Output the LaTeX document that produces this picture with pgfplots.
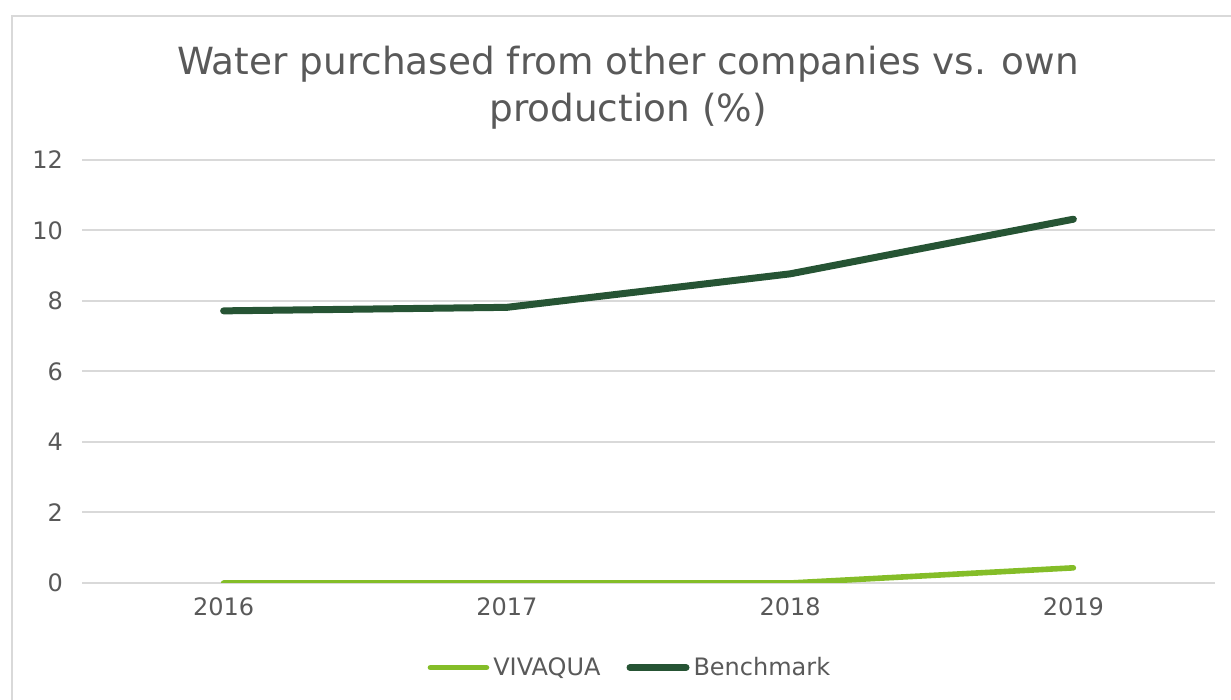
\documentclass[border=0pt]{standalone}
\usepackage{fontspec}
\setmainfont{DejaVu Sans}
\usepackage{pgfplots}
\pgfplotsset{compat=1.18}
\definecolor{txt}{RGB}{89,89,89}
\definecolor{gridc}{RGB}{217,217,217}
\definecolor{viva}{RGB}{132,189,40}
\definecolor{bench}{RGB}{38,84,52}
\begin{document}
\begin{tikzpicture}
\path[use as bounding box] (0,0) rectangle (615.5pt,350pt);
\draw[gridc, line width=1pt] (5.75pt,-20pt) -- (5.75pt,342pt) -- (640pt,342pt);
\node[text=txt, font=\fontsize{18.7pt}{23.5pt}\selectfont, align=center] at (314pt,306pt) {Water purchased from other companies vs. own\\production (\%)};
\begin{axis}[
  at={(41pt,58.5pt)}, anchor=south west,
  scale only axis, width=566.5pt, height=211.5pt,
  xmin=-0.5, xmax=3.5, ymin=0, ymax=12,
  xtick={0,1,2,3}, xticklabels={2016,2017,2018,2019},
  ytick={0,2,4,6,8,10,12},
  xmajorgrids=false, ymajorgrids=true, grid style={draw=gridc, line width=1pt},
  axis line style={draw=none}, tick style={draw=none},
  tick label style={text=txt, font=\fontsize{12pt}{14pt}\selectfont},
  /pgf/number format/assume math mode=true,
  yticklabel style={xshift=-6pt},
  xticklabel style={yshift=-4pt},
  legend columns=2,
  legend style={draw=none, fill=none, at={(axis description cs:0.4845,-0.2)}, anchor=center,
    font=\fontsize{12pt}{14pt}\selectfont, text=txt,
    /tikz/every odd column/.append style={inner xsep=1pt},
    /tikz/every even column/.append style={column sep=11pt}},
  legend image code/.code={\draw[#1, line cap=round] (0pt,0pt) -- (28pt,0pt);},
]
\addplot[viva, line width=2.8pt, line cap=round, line join=round] coordinates {(0,0) (1,0) (2,0) (3,0.43)};
\addlegendentry{VIVAQUA}
\addplot[bench, line width=3.5pt, line cap=round, line join=round] coordinates {(0,7.72) (1,7.82) (2,8.77) (3,10.32)};
\addlegendentry{Benchmark}
\end{axis}
\end{tikzpicture}
\end{document}
